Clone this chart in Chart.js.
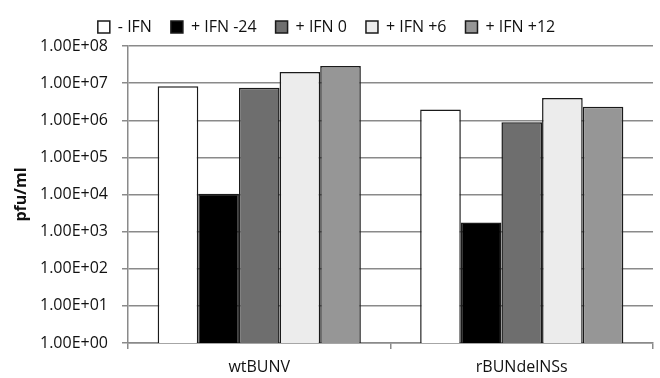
<!DOCTYPE html>
<html>
<head>
<meta charset="utf-8">
<script src="https://cdn.jsdelivr.net/npm/chart.js@4"></script>
<style>
  html, body { margin: 0; padding: 0; background: #fff; }
  #wrap { width: 660px; height: 378px; }
</style>
</head>
<body>
<div id="wrap"><canvas id="IfnChart" width="660" height="378"></canvas></div>
<script>
var viruses = ["wtBUNV", "rBUNdelNSs"];
var seriesNames = ["- IFN", "+ IFN -24", "+ IFN 0", "+ IFN +6", "+ IFN +12"];
var noIfn   = [8.3e6, 1.95e6];
var ifnM24  = [1.05e4, 1.75e3];
var ifn0    = [7.5e6, 8.9e5];
var ifnP6   = [2.0e7, 4.0e6];
var ifnP12  = [2.9e7, 2.3e6];
var yTicks  = [1, 1e1, 1e2, 1e3, 1e4, 1e5, 1e6, 1e7, 1e8];

var fills = ['#ffffff', '#000000', '#6e6e6e', '#ececec', '#969696'];
var values = [noIfn, ifnM24, ifn0, ifnP6, ifnP12];

Chart.defaults.font.family = "'Open Sans', sans-serif";
Chart.defaults.color = '#222';

var sets = [];
for (var i = 0; i < seriesNames.length; i++) {
    sets.push({
        label: seriesNames[i],
        data: values[i],
        backgroundColor: fills[i],
        borderColor: '#1a1a1a',
        borderWidth: 1.5,
        borderSkipped: 'bottom',
        categoryPercentage: 0.774,
        barPercentage: 1.0
    });
}

// pin the legend height so the plot starts where the reference does
var legendHeight = {
    id: 'legendHeight',
    afterInit: function (chart) {
        var lg = chart.legend;
        var fit = lg.fit;
        lg.fit = function () {
            fit.call(this);
            this.height = 46;
        };
    }
};

var ctx1 = document.getElementById("IfnChart");
var ifnChart = new Chart(ctx1, {
    type: 'bar',
    data: { labels: viruses, datasets: sets },
    plugins: [legendHeight],
    options: {
        responsive: false,
        animation: false,
        layout: { padding: { left: 0, right: 7, top: 0, bottom: 0 } },
        plugins: {
            tooltip: { enabled: false },
            legend: {
                position: 'top',
                labels: {
                    boxWidth: 12,
                    boxHeight: 12,
                    padding: 19,
                    font: { size: 16 },
                    color: '#111'
                }
            }
        },
        scales: {
            x: {
                grid: {
                    offset: true,
                    drawOnChartArea: false,
                    tickLength: 6,
                    color: '#8a8a8a',
                    lineWidth: 1.5
                },
                border: { color: '#8a8a8a', width: 1.5 },
                ticks: { font: { size: 16 }, color: '#111', padding: 9 },
                afterFit: function (s) { s.height = 35; }
            },
            y: {
                type: 'logarithmic',
                min: 1,
                max: 1e8,
                afterBuildTicks: function (s) {
                    s.ticks = yTicks.map(function (v) { return { value: v }; });
                },
                ticks: {
                    font: { size: 16 },
                    color: '#111',
                    padding: 14,
                    callback: function (v) {
                        var e = Math.round(Math.log10(v));
                        return '1.00E+' + (e < 10 ? '0' : '') + e;
                    }
                },
                grid: {
                    color: '#8a8a8a',
                    lineWidth: 1.5,
                    tickLength: 6
                },
                border: { color: '#8a8a8a', width: 1.5 },
                title: {
                    display: true,
                    text: 'pfu/ml',
                    font: { size: 16, weight: 'bold' },
                    color: '#111',
                    padding: { top: 12, bottom: 0 }
                },
                afterFit: function (s) { s.width = 128; }
            }
        }
    }
});
</script>
</body>
</html>
